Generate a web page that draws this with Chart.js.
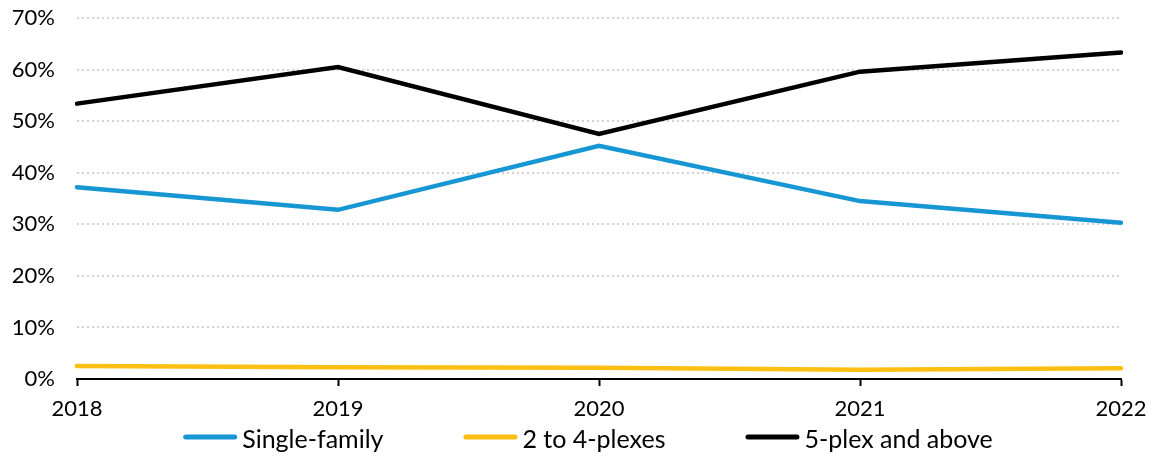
<!DOCTYPE html>
<html>
<head>
<meta charset="utf-8">
<script src="https://cdn.jsdelivr.net/npm/chart.js@4.4.1/dist/chart.umd.min.js"></script>
<style>
  html, body { margin: 0; padding: 0; background: #ffffff; }
  #wrap { position: relative; width: 1157px; height: 456px; }
</style>
</head>
<body>
<div id="wrap"><canvas id="chart"></canvas></div>
<script>
// Share of new housing units by building type
const years = ['2018', '2019', '2020', '2021', '2022'];
const singleFamily = [37.2, 32.8, 45.2, 34.5, 30.3];
const twoToFourPlex = [2.5, 2.3, 2.2, 1.8, 2.1];
const fivePlexUp = [53.4, 60.5, 47.5, 59.6, 63.3];
const yTicks = [0, 10, 20, 30, 40, 50, 60, 70];

const seriesNames = ['Single-family', '2 to 4-plexes', '5-plex and above'];
const seriesColors = ['#1696d2', '#fdbf11', '#000000'];

const FONT = 'Lato';
const AXIS_SIZE = 22;
const KEY_SIZE = 25;

// Legend row drawn below the axis: short rounded line, then the label
const keyRow = {
  id: 'keyRow',
  afterDraw(chart) {
    const ctx = chart.ctx;
    const sets = chart.data.datasets;
    const markW = 54, gapText = 5, gapItem = 80;
    ctx.save();
    ctx.font = KEY_SIZE + 'px ' + FONT;
    ctx.textBaseline = 'alphabetic';
    ctx.textAlign = 'left';
    const widths = sets.map(d => markW + gapText + ctx.measureText(d.label).width);
    const total = widths.reduce((a, b) => a + b, 0) + gapItem * (sets.length - 1);
    let x = 588 - total / 2;
    const yLine = 437;
    const yText = 448;
    sets.forEach((d, i) => {
      ctx.strokeStyle = d.borderColor;
      ctx.lineWidth = 5;
      ctx.lineCap = 'round';
      ctx.beginPath();
      ctx.moveTo(x + 2.5, yLine);
      ctx.lineTo(x + markW - 2.5, yLine);
      ctx.stroke();
      ctx.fillStyle = '#000';
      ctx.fillText(d.label, x + markW + gapText, yText);
      x += widths[i] + gapItem;
    });
    ctx.restore();
  }
};

const makeSet = (i, data) => ({
  label: seriesNames[i],
  data: data,
  borderColor: seriesColors[i],
  backgroundColor: seriesColors[i],
  borderWidth: 4.5,
  borderCapStyle: 'round',
  borderJoinStyle: 'miter',
  pointRadius: 0,
  pointHoverRadius: 0,
  tension: 0,
  fill: false
});

new Chart(document.getElementById('chart'), {
  type: 'line',
  data: {
    labels: years,
    datasets: [
      makeSet(0, singleFamily),
      makeSet(1, twoToFourPlex),
      makeSet(2, fivePlexUp)
    ]
  },
  plugins: [keyRow],
  options: {
    responsive: true,
    maintainAspectRatio: false,
    animation: false,
    devicePixelRatio: 1,
    layout: { padding: { top: 18, right: 36, bottom: 0, left: 0 } },
    font: { family: FONT },
    plugins: {
      legend: { display: false },
      tooltip: { enabled: false }
    },
    scales: {
      x: {
        type: 'category',
        offset: false,
        afterFit(scale) { scale.height = 456 - 379; },
        grid: {
          display: true,
          drawOnChartArea: false,
          drawTicks: true,
          tickLength: 7,
          tickWidth: 2,
          color: '#000'
        },
        border: { display: true, color: '#000', width: 2 },
        ticks: {
          color: '#000',
          font: { family: FONT, size: AXIS_SIZE },
          padding: 10,
          maxRotation: 0,
          autoSkip: false
        }
      },
      y: {
        min: 0,
        max: 70,
        afterBuildTicks(scale) {
          scale.ticks = yTicks.map(v => ({ value: v }));
        },
        afterFit(scale) {
          scale.width = 77;
          scale.paddingTop = 0;
          scale.paddingBottom = 0;
        },
        grid: {
          display: true,
          drawTicks: false,
          color: '#d2d2d2',
          lineWidth: 2
        },
        border: { display: false, dash: [2, 3] },
        ticks: {
          color: '#000',
          font: { family: FONT, size: AXIS_SIZE },
          padding: 22,
          callback: v => v + '%'
        }
      }
    }
  }
});
</script>
</body>
</html>
